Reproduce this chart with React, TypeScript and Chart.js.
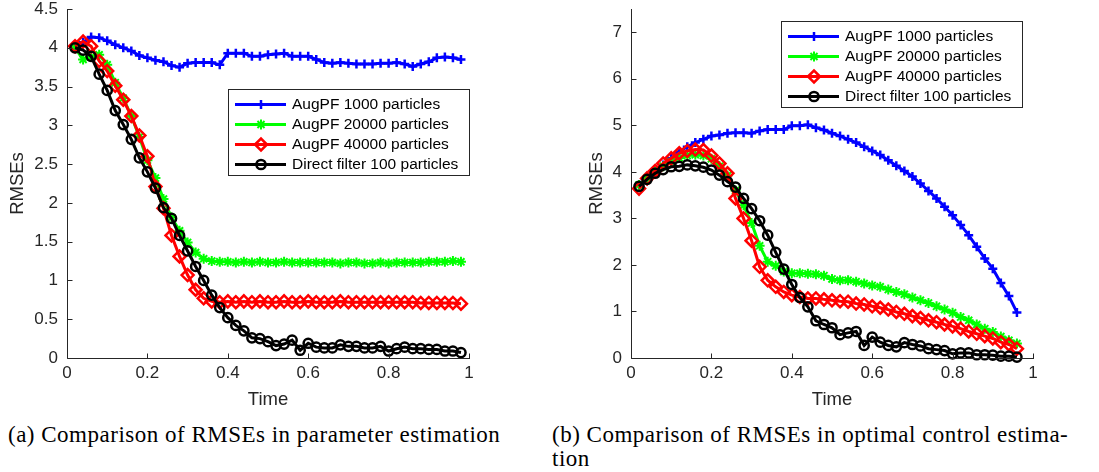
import React, { useEffect, useRef } from 'react';
import { Chart, registerables } from 'chart.js';
import { drawPoint } from 'chart.js/helpers';

Chart.register(...registerables);

// ---------- data ----------
const TIME_A = [
  0.02, 0.04, 0.06, 0.08, 0.1, 0.12, 0.14, 0.16, 0.18, 0.2,
  0.22, 0.24, 0.26, 0.28, 0.3, 0.32, 0.34, 0.36, 0.38, 0.4,
  0.42, 0.44, 0.46, 0.48, 0.5, 0.52, 0.54, 0.56, 0.58, 0.6,
  0.62, 0.64, 0.66, 0.68, 0.7, 0.72, 0.74, 0.76, 0.78, 0.8,
  0.82, 0.84, 0.86, 0.88, 0.9, 0.92, 0.94, 0.96, 0.98,
];
const TIME_B = TIME_A.slice(0, 48);

const LEGEND_LABELS = [
  'AugPF 1000 particles',
  'AugPF 20000 particles',
  'AugPF 40000 particles',
  'Direct filter 100 particles',
];
const SERIES_COLORS = ['#0000ff', '#00ff00', '#ff0000', '#000000'];
const SERIES_MARKERS = ['cross', 'star', 'rectRot', 'circle'];

const X_TICKS = [0, 0.2, 0.4, 0.6, 0.8, 1];
const Y_TICKS_A = [0, 0.5, 1, 1.5, 2, 2.5, 3, 3.5, 4, 4.5];
const Y_TICKS_B = [0, 1, 2, 3, 4, 5, 6, 7];

// (a) parameter estimation
const A_AUG1000 = [
  4.00, 4.07, 4.14, 4.13, 4.09, 4.04, 4.00, 3.96, 3.90, 3.87,
  3.84, 3.82, 3.77, 3.75, 3.80, 3.81, 3.81, 3.81, 3.78, 3.93,
  3.93, 3.93, 3.89, 3.89, 3.91, 3.92, 3.93, 3.89, 3.89, 3.89,
  3.85, 3.81, 3.80, 3.81, 3.80, 3.79, 3.79, 3.79, 3.80, 3.80,
  3.81, 3.79, 3.76, 3.79, 3.82, 3.87, 3.88, 3.87, 3.85,
];
const A_AUG20000 = [
  4.00, 3.85, 3.88, 3.91, 3.78, 3.55, 3.35, 3.12, 2.85, 2.55,
  2.32, 2.05, 1.81, 1.64, 1.49, 1.36, 1.28, 1.25, 1.24, 1.24,
  1.23, 1.24, 1.23, 1.24, 1.23, 1.23, 1.24, 1.23, 1.23, 1.23,
  1.23, 1.23, 1.23, 1.22, 1.23, 1.23, 1.22, 1.22, 1.23, 1.22,
  1.23, 1.23, 1.23, 1.23, 1.24, 1.24, 1.24, 1.25, 1.24,
];
const A_AUG40000 = [
  4.02, 4.08, 4.02, 3.83, 3.70, 3.51, 3.33, 3.12, 2.87, 2.60,
  2.21, 1.93, 1.58, 1.31, 1.07, 0.88, 0.77, 0.73, 0.72, 0.73,
  0.72, 0.73, 0.72, 0.73, 0.72, 0.72, 0.73, 0.72, 0.72, 0.73,
  0.72, 0.72, 0.72, 0.73, 0.72, 0.72, 0.72, 0.72, 0.72, 0.72,
  0.72, 0.72, 0.72, 0.71, 0.71, 0.71, 0.71, 0.71, 0.70,
];
const A_DIRECT100 = [
  4.00, 3.97, 3.89, 3.66, 3.45, 3.19, 3.01, 2.82, 2.58, 2.40,
  2.19, 1.94, 1.80, 1.58, 1.38, 1.18, 1.00, 0.81, 0.65, 0.52,
  0.42, 0.35, 0.26, 0.25, 0.21, 0.16, 0.18, 0.23, 0.10, 0.19,
  0.14, 0.13, 0.13, 0.17, 0.15, 0.15, 0.13, 0.13, 0.15, 0.09,
  0.12, 0.14, 0.12, 0.12, 0.11, 0.11, 0.09, 0.09, 0.07,
];

// (b) optimal control estimation
const B_AUG1000 = [
  3.72, 3.86, 4.00, 4.15, 4.29, 4.43, 4.54, 4.63, 4.70, 4.77,
  4.79, 4.83, 4.84, 4.84, 4.83, 4.88, 4.91, 4.91, 4.91, 4.99,
  4.99, 5.01, 4.95, 4.90, 4.83, 4.77, 4.70, 4.63, 4.54, 4.45,
  4.36, 4.25, 4.13, 4.02, 3.90, 3.75, 3.59, 3.43, 3.25, 3.07,
  2.86, 2.64, 2.39, 2.14, 1.92, 1.61, 1.33, 0.98,
];
const B_AUG20000 = [
  3.72, 3.87, 4.00, 4.12, 4.22, 4.30, 4.35, 4.37, 4.35, 4.28,
  4.12, 3.92, 3.60, 3.28, 2.90, 2.41, 2.07, 1.98, 1.86, 1.82,
  1.82, 1.81, 1.80, 1.77, 1.70, 1.67, 1.67, 1.64, 1.60, 1.56,
  1.53, 1.47, 1.42, 1.37, 1.30, 1.24, 1.18, 1.11, 1.04, 0.97,
  0.88, 0.81, 0.72, 0.63, 0.56, 0.46, 0.38, 0.31,
];
const B_AUG40000 = [
  3.64, 3.86, 4.02, 4.18, 4.29, 4.40, 4.45, 4.48, 4.47, 4.35,
  4.18, 3.97, 3.43, 3.00, 2.52, 1.96, 1.67, 1.53, 1.42, 1.35,
  1.31, 1.28, 1.28, 1.26, 1.24, 1.22, 1.21, 1.17, 1.15, 1.11,
  1.08, 1.04, 0.99, 0.95, 0.90, 0.86, 0.81, 0.77, 0.72, 0.68,
  0.63, 0.57, 0.52, 0.47, 0.42, 0.34, 0.29, 0.20,
];
const B_DIRECT100 = [
  3.69, 3.84, 3.97, 4.05, 4.11, 4.12, 4.15, 4.13, 4.10, 4.04,
  3.93, 3.79, 3.67, 3.43, 3.21, 2.95, 2.64, 2.27, 1.91, 1.58,
  1.30, 1.10, 0.80, 0.72, 0.65, 0.50, 0.54, 0.57, 0.27, 0.45,
  0.34, 0.27, 0.24, 0.33, 0.29, 0.26, 0.20, 0.18, 0.16, 0.09,
  0.11, 0.11, 0.07, 0.07, 0.06, 0.04, 0.04, 0.02,
];

// ---------- styling ----------
const SANS = '"Liberation Sans", Arial, Helvetica, sans-serif';
const AXIS_COLOR = '#262626';
const MARKER_RADII = [4.5, 5, 6, 4.6];

const fmt = (v: number | string) => String(Number(Number(v).toFixed(3)));

const axesPlugin = {
  id: 'matlabAxes',
  afterDatasetsDraw(chart: any) {
    const { ctx, chartArea: ca, scales } = chart;
    const x = scales.x;
    const y = scales.y;
    ctx.save();
    ctx.strokeStyle = AXIS_COLOR;
    ctx.lineWidth = 1;
    ctx.beginPath();
    const L = Math.round(ca.left) + 0.5;
    const B = Math.round(ca.bottom) + 0.5;
    ctx.moveTo(L, Math.round(ca.top));
    ctx.lineTo(L, B);
    ctx.lineTo(Math.round(ca.right) + 1, B);
    x.ticks.forEach((t: any) => {
      const px = Math.round(x.getPixelForValue(t.value)) + 0.5;
      ctx.moveTo(px, B);
      ctx.lineTo(px, B - 5);
    });
    y.ticks.forEach((t: any) => {
      const py = Math.round(y.getPixelForValue(t.value)) + 0.5;
      ctx.moveTo(L, py);
      ctx.lineTo(L + 5, py);
    });
    ctx.stroke();
    ctx.restore();
  },
};

const legendPlugin = {
  id: 'matlabLegend',
  afterDraw(chart: any, _args: any, opts: any) {
    const box = opts && opts.box;
    if (!box) return;
    const { ctx } = chart;
    ctx.save();
    ctx.fillStyle = '#ffffff';
    ctx.fillRect(box.left, box.top, box.width, box.height);
    ctx.strokeStyle = AXIS_COLOR;
    ctx.lineWidth = 1;
    ctx.strokeRect(box.left + 0.5, box.top + 0.5, box.width, box.height);
    chart.data.datasets.forEach((ds: any, i: number) => {
      const yy = box.top + 15.5 + i * 20;
      ctx.strokeStyle = ds.borderColor;
      ctx.lineWidth = 3;
      ctx.beginPath();
      ctx.moveTo(box.left + 7, yy);
      ctx.lineTo(box.left + 58, yy);
      ctx.stroke();
      ctx.fillStyle = 'rgba(0,0,0,0)';
      ctx.strokeStyle = ds.borderColor;
      ctx.lineWidth = ds.pointBorderWidth;
      drawPoint(ctx, { pointStyle: ds.pointStyle, radius: ds.pointRadius, rotation: 0, borderWidth: ds.pointBorderWidth }, box.left + 33, yy);
      ctx.fillStyle = '#000000';
      ctx.font = `15.5px ${SANS}`;
      ctx.textBaseline = 'middle';
      ctx.textAlign = 'left';
      ctx.fillText(ds.label, box.left + 64, yy + 0.5);
    });
    ctx.restore();
  },
};

type PanelSpec = {
  times: number[];
  series: number[][];
  yMax: number;
  yTicks: number[];
  left: number;
  width: number;
  height: number;
  yWidth: number;
  padRight: number;
  legendBox: { left: number; top: number; width: number; height: number };
};

function buildConfig(p: PanelSpec): any {
  const datasets = p.series.map((vals, i) => ({
    label: LEGEND_LABELS[i],
    data: p.times.map((t, j) => ({ x: t, y: vals[j] })),
    borderColor: SERIES_COLORS[i],
    backgroundColor: SERIES_COLORS[i],
    borderWidth: 3,
    pointStyle: SERIES_MARKERS[i],
    pointRadius: MARKER_RADII[i],
    pointBorderWidth: i === 1 ? 2 : 2.5,
    pointBorderColor: SERIES_COLORS[i],
    pointBackgroundColor: 'rgba(0,0,0,0)',
    tension: 0,
    clip: false,
    order: 3 - i,
  }));
  const tickFont = { family: SANS, size: 17 };
  const titleFont = { family: SANS, size: 18.5 };
  return {
    type: 'line',
    data: { datasets },
    plugins: [axesPlugin, legendPlugin],
    options: {
      responsive: false,
      animation: false,
      devicePixelRatio: 1,
      events: [],
      layout: { padding: { left: 0, top: 9, right: p.padRight, bottom: 0 } },
      plugins: {
        legend: { display: false },
        tooltip: { enabled: false },
        matlabLegend: { box: p.legendBox },
      },
      scales: {
        x: {
          type: 'linear',
          min: 0,
          max: 1,
          grid: { display: false, drawTicks: false },
          border: { display: false },
          afterBuildTicks: (s: any) => {
            s.ticks = X_TICKS.map((v) => ({ value: v }));
          },
          ticks: {
            autoSkip: false,
            maxRotation: 0,
            padding: 5,
            color: AXIS_COLOR,
            font: tickFont,
            callback: (v: any) => fmt(v),
          },
          title: {
            display: true,
            text: 'Time',
            color: AXIS_COLOR,
            font: titleFont,
            padding: { top: 0, bottom: 4 },
          },
          afterFit: (s: any) => {
            s.height = p.height - 358;
            s.paddingLeft = 0;
            s.paddingRight = 0;
          },
        },
        y: {
          type: 'linear',
          min: 0,
          max: p.yMax,
          grid: { display: false, drawTicks: false },
          border: { display: false },
          afterBuildTicks: (s: any) => {
            s.ticks = p.yTicks.map((v) => ({ value: v }));
          },
          ticks: {
            autoSkip: false,
            padding: 9,
            color: AXIS_COLOR,
            font: tickFont,
            callback: (v: any) => fmt(v),
          },
          title: {
            display: true,
            text: 'RMSEs',
            color: AXIS_COLOR,
            font: titleFont,
            padding: { top: 7, bottom: 0 },
          },
          afterFit: (s: any) => {
            s.width = p.yWidth;
            s.paddingTop = 0;
            s.paddingBottom = 0;
          },
        },
      },
    },
  };
}

const PANEL_A: PanelSpec = {
  times: TIME_A,
  series: [A_AUG1000, A_AUG20000, A_AUG40000, A_DIRECT100],
  yMax: 4.5,
  yTicks: Y_TICKS_A,
  left: 0,
  width: 540,
  height: 415,
  yWidth: 67,
  padRight: 71,
  legendBox: { left: 228, top: 89, width: 241, height: 86 },
};

const PANEL_B: PanelSpec = {
  times: TIME_B,
  series: [B_AUG1000, B_AUG20000, B_AUG40000, B_DIRECT100],
  yMax: 7.5,
  yTicks: Y_TICKS_B,
  left: 579,
  width: 520,
  height: 415,
  yWidth: 52,
  padRight: 66,
  legendBox: { left: 202, top: 21, width: 241, height: 86 },
};

function Panel({ spec }: { spec: PanelSpec }) {
  const ref = useRef<HTMLCanvasElement>(null);
  useEffect(() => {
    const chart = new Chart(ref.current as HTMLCanvasElement, buildConfig(spec));
    return () => chart.destroy();
  }, [spec]);
  return (
    <canvas
      ref={ref}
      width={spec.width}
      height={spec.height}
      style={{ position: 'absolute', left: spec.left, top: 0, width: spec.width, height: spec.height }}
    />
  );
}

const CAPTION_STYLE: React.CSSProperties = {
  position: 'absolute',
  fontFamily: '"Liberation Serif", "Times New Roman", serif',
  fontSize: 23,
  letterSpacing: 0.5,
  lineHeight: '24px',
  color: '#000',
  whiteSpace: 'nowrap',
};

export default function App() {
  return (
    <div
      style={{
        position: 'fixed',
        left: 0,
        top: 0,
        width: 1099,
        height: 472,
        background: '#ffffff',
        overflow: 'hidden',
      }}
    >
      <Panel spec={PANEL_A} />
      <Panel spec={PANEL_B} />
      <div style={{ ...CAPTION_STYLE, left: 8, top: 423 }}>
        (a) Comparison of RMSEs in parameter estimation
      </div>
      <div style={{ ...CAPTION_STYLE, left: 552, top: 423 }}>
        (b) Comparison of RMSEs in optimal control estima-
        <br />
        tion
      </div>
    </div>
  );
}
